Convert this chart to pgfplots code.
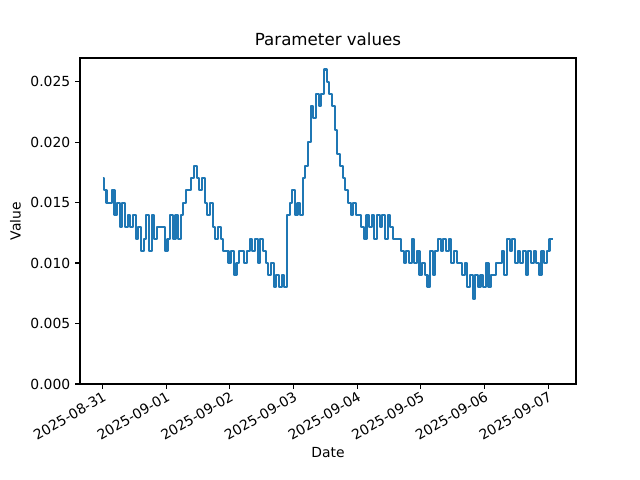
\documentclass[border=0pt]{standalone}
\usepackage{pgfplots}
\pgfplotsset{compat=1.18}
\usepackage{pgfplotstable}
\usepackage{fontspec}
\setmainfont{DejaVu Sans}
\definecolor{mplblue}{HTML}{1F77B4}
\pgfplotstableread{
h v
0 0.017
1 0.016
2 0.015
3 0.015
4 0.016
5 0.014
6 0.015
7 0.013
8 0.015
9 0.013
10 0.014
11 0.013
12 0.014
13 0.012
14 0.013
15 0.011
16 0.012
17 0.014
18 0.011
19 0.014
20 0.012
21 0.013
22 0.013
23 0.013
24 0.011
25 0.012
26 0.014
27 0.012
28 0.014
29 0.012
30 0.014
31 0.015
32 0.016
33 0.016
34 0.017
35 0.018
36 0.017
37 0.016
38 0.017
39 0.015
40 0.014
41 0.015
42 0.013
43 0.012
44 0.013
45 0.012
46 0.011
47 0.011
48 0.010
49 0.011
50 0.009
51 0.010
52 0.011
53 0.011
54 0.010
55 0.011
56 0.012
57 0.011
58 0.012
59 0.010
60 0.012
61 0.011
62 0.010
63 0.009
64 0.010
65 0.008
66 0.009
67 0.008
68 0.009
69 0.008
70 0.014
71 0.015
72 0.016
73 0.014
74 0.015
75 0.014
76 0.017
77 0.018
78 0.020
79 0.023
80 0.022
81 0.024
82 0.023
83 0.024
84 0.026
85 0.025
86 0.024
87 0.023
88 0.021
89 0.019
90 0.018
91 0.017
92 0.016
93 0.015
94 0.014
95 0.015
96 0.014
97 0.014
98 0.013
99 0.012
100 0.014
101 0.013
102 0.014
103 0.012
104 0.014
105 0.013
106 0.014
107 0.012
108 0.014
109 0.013
110 0.012
111 0.012
112 0.012
113 0.011
114 0.010
115 0.011
116 0.010
117 0.012
118 0.010
119 0.011
120 0.009
121 0.010
122 0.009
123 0.008
124 0.011
125 0.009
126 0.011
127 0.012
128 0.011
129 0.012
130 0.011
131 0.012
132 0.010
133 0.011
134 0.010
135 0.010
136 0.009
137 0.010
138 0.008
139 0.009
140 0.007
141 0.009
142 0.008
143 0.009
144 0.008
145 0.010
146 0.008
147 0.009
148 0.009
149 0.010
150 0.010
151 0.011
152 0.009
153 0.012
154 0.011
155 0.012
156 0.010
157 0.011
158 0.010
159 0.011
160 0.009
161 0.011
162 0.010
163 0.011
164 0.010
165 0.009
166 0.011
167 0.010
168 0.011
169 0.012
170 0.012
}\datatable
\begin{document}
\begin{tikzpicture}
\useasboundingbox (-57.6pt,-69.12pt) rectangle (403.2pt,276.48pt);
\begin{axis}[
  scale only axis,
  width=357.12pt, height=234.72pt,
  at={(0,0)}, anchor=south west,
  xmin=-8.5, xmax=178.5,
  ymin=0, ymax=0.02695,
  xtick={0,24,48,72,96,120,144,168},
  xticklabels={2025-08-31,2025-09-01,2025-09-02,2025-09-03,2025-09-04,2025-09-05,2025-09-06,2025-09-07},
  ytick={0,0.005,0.01,0.015,0.02,0.025},
  scaled y ticks=false,
  yticklabel style={/pgf/number format/fixed, /pgf/number format/fixed zerofill, /pgf/number format/precision=3, /pgf/number format/assume math mode=true, font=\fontsize{10}{12}\selectfont},
  xticklabel style={rotate=30, anchor=north east, font=\fontsize{10}{12}\selectfont, inner sep=1pt},
  tick align=outside,
  tick pos=left,
  major tick length=3.5pt,
  every tick/.style={black, line width=0.8pt},
  axis line style={line width=0.8pt},
  title={Parameter values},
  title style={font=\fontsize{12}{14}\selectfont, yshift=-1pt},
  xlabel={Date},
  ylabel={Value},
  xlabel style={font=\fontsize{10}{12}\selectfont},
  ylabel style={font=\fontsize{10}{12}\selectfont},
]
\addplot[mplblue, line width=1.5pt, line join=round, const plot mark mid] table[x=h, y=v] {\datatable};
\end{axis}
\end{tikzpicture}
\end{document}
